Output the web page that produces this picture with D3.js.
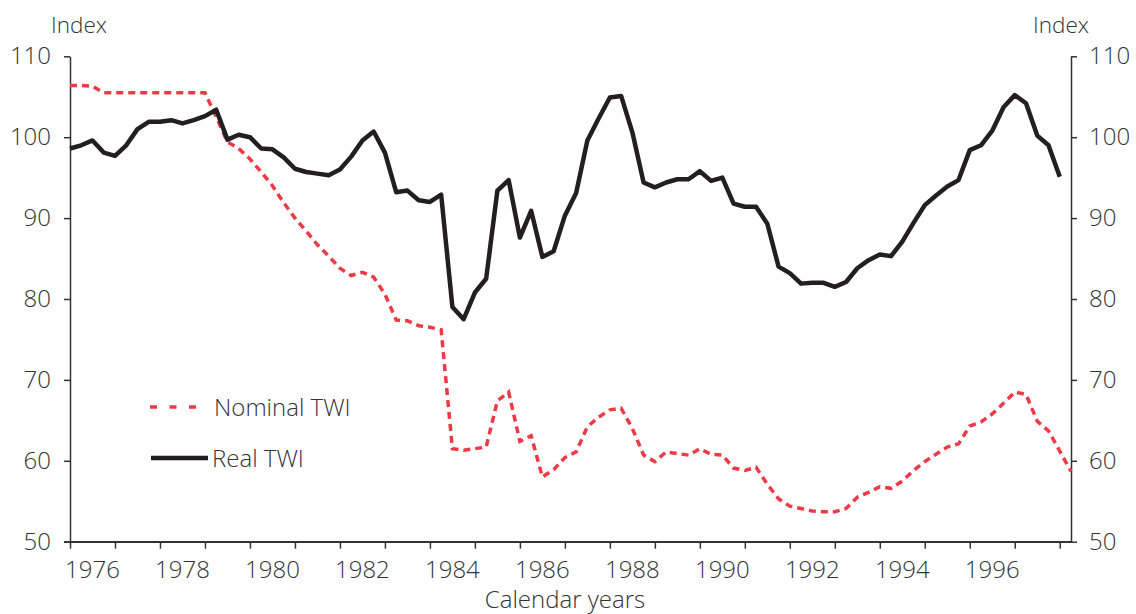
<!DOCTYPE html>
<html>
<head>
<meta charset="utf-8">
<script src="https://cdn.jsdelivr.net/npm/d3@7"></script>
<style>
  html, body { margin: 0; padding: 0; background: #fff; }
  svg { display: block; }
  text { font-family: "Open Sans", "Liberation Sans", sans-serif; font-weight: 300; fill: #333; }
</style>
</head>
<body>
<svg id="chart" width="1136" height="614"></svg>
<script>
// Quarterly data, starting 1976 Q1
const startYear = 1976;
const realTWI = [
  98.6, 99.0, 99.6, 98.1, 97.7, 99.0, 101.0, 101.9, 101.9, 102.1,
  101.7, 102.1, 102.6, 103.4, 99.7, 100.3, 100.0, 98.6, 98.5, 97.5,
  96.1, 95.7, 95.5, 95.3, 96.0, 97.6, 99.6, 100.7, 98.1, 93.2,
  93.4, 92.2, 92.0, 92.9, 79.0, 77.5, 80.8, 82.5, 93.4, 94.7,
  87.6, 90.9, 85.2, 85.9, 90.3, 93.1, 99.6, 102.3, 104.9, 105.1,
  100.6, 94.4, 93.8, 94.4, 94.8, 94.8, 95.8, 94.6, 95.0, 91.8,
  91.4, 91.4, 89.3, 84.0, 83.2, 81.9, 82.0, 82.0, 81.5, 82.1,
  83.8, 84.8, 85.5, 85.3, 87.1, 89.4, 91.6, 92.8, 93.9, 94.7,
  98.4, 99.0, 100.8, 103.7, 105.2, 104.2, 100.2, 99.0, 95.1
];
const nominalTWI = [
  106.4, 106.4, 106.3, 105.5, 105.5, 105.5, 105.5, 105.5, 105.5, 105.5,
  105.5, 105.5, 105.5, 102.5, 99.4, 98.6, 97.3, 95.7, 94.0, 91.9,
  90.0, 88.4, 86.7, 85.3, 83.8, 82.9, 83.3, 82.7, 80.6, 77.4,
  77.3, 76.7, 76.5, 76.2, 61.5, 61.3, 61.5, 61.7, 67.4, 68.5,
  62.4, 63.1, 58.0, 58.9, 60.4, 61.1, 64.2, 65.4, 66.3, 66.5,
  64.0, 60.7, 59.9, 61.1, 60.9, 60.7, 61.5, 60.8, 60.7, 59.1,
  58.8, 59.2, 57.1, 55.3, 54.4, 54.1, 53.8, 53.7, 53.7, 54.1,
  55.5, 56.1, 56.8, 56.6, 57.5, 58.8, 59.9, 60.8, 61.7, 62.1,
  64.3, 64.8, 65.8, 67.1, 68.5, 68.2, 64.9, 63.7, 61.2, 58.7
];
const yTicks = [50, 60, 70, 80, 90, 100, 110];
const yearTicks = d3.range(1976, 1999);
const yearLabels = [1976, 1978, 1980, 1982, 1984, 1986, 1988, 1990, 1992, 1994, 1996];
const seriesNames = ["Nominal TWI", "Real TWI"];
const axisTitle = "Index";
const xTitle = "Calendar years";

const svg = d3.select("#chart");
const mLeft = 70, mRight = 1071, mTop = 56.3, mBottom = 541.7;
const x = d3.scaleLinear().domain([1976, 1998.25]).range([mLeft, mRight]);
const y = d3.scaleLinear().domain([50, 110]).range([mBottom, mTop]);

const axisColor = "#333";
const fontSize = 24;

const gl = svg.append("g").attr("transform", `translate(${mLeft},0)`)
  .call(d3.axisLeft(y).tickValues(yTicks).tickSize(6).tickPadding(13).tickSizeOuter(0));
const gr = svg.append("g").attr("transform", `translate(${mRight},0)`)
  .call(d3.axisRight(y).tickValues(yTicks).tickSize(6).tickPadding(12).tickSizeOuter(0));
[gl, gr].forEach(g => {
  g.select(".domain").attr("stroke", axisColor).attr("stroke-width", 1.5);
  g.selectAll(".tick line").attr("stroke", axisColor).attr("stroke-width", 1.5);
  g.selectAll(".tick text").attr("font-size", fontSize).attr("font-family", null).attr("fill", "#333");
});

const gb = svg.append("g").attr("transform", `translate(0,${mBottom})`)
  .call(d3.axisBottom(x).tickValues(yearTicks).tickSize(7).tickFormat("").tickSizeOuter(0));
gb.select(".domain").attr("stroke", axisColor).attr("stroke-width", 1.5);
gb.selectAll(".tick line").attr("stroke", axisColor).attr("stroke-width", 1.5);
svg.append("line").attr("x1", mLeft - 6).attr("x2", mRight).attr("y1", mBottom).attr("y2", mBottom)
  .attr("stroke", axisColor).attr("stroke-width", 1.5);

svg.append("g").selectAll("text").data(yearLabels).join("text")
  .attr("x", d => x(d + 0.5))
  .attr("y", 578)
  .attr("text-anchor", "middle")
  .attr("font-size", fontSize)
  .text(d => d);

svg.append("text").attr("x", 565).attr("y", 608).attr("text-anchor", "middle")
  .attr("font-size", fontSize).text(xTitle);
svg.append("text").attr("x", 79).attr("y", 33).attr("text-anchor", "middle")
  .attr("font-size", 22.5).text(axisTitle);
svg.append("text").attr("x", 1061).attr("y", 33).attr("text-anchor", "middle")
  .attr("font-size", 22.5).text(axisTitle);

const line = d3.line().x((d, i) => x(startYear + i / 4)).y(d => y(d)).curve(d3.curveLinear);

const red = "#ee3a46", black = "#231f20";

svg.append("path").datum(nominalTWI).attr("d", line)
  .attr("fill", "none").attr("stroke", red).attr("stroke-width", 3.5)
  .attr("stroke-dasharray", "7,5");
svg.append("path").datum(realTWI).attr("d", line)
  .attr("fill", "none").attr("stroke", black).attr("stroke-width", 4.5)
  .attr("stroke-linejoin", "round");

const lg = svg.append("g");
lg.append("line").attr("x1", 150).attr("x2", 197).attr("y1", 407).attr("y2", 407)
  .attr("stroke", red).attr("stroke-width", 3.5).attr("stroke-dasharray", "7,12.5");
lg.append("text").attr("x", 214).attr("y", 416).attr("font-size", fontSize).text(seriesNames[0]);
lg.append("line").attr("x1", 151).attr("x2", 208).attr("y1", 458).attr("y2", 458)
  .attr("stroke", black).attr("stroke-width", 4.5);
lg.append("text").attr("x", 212).attr("y", 467).attr("font-size", fontSize).text(seriesNames[1]);
</script>
</body>
</html>
